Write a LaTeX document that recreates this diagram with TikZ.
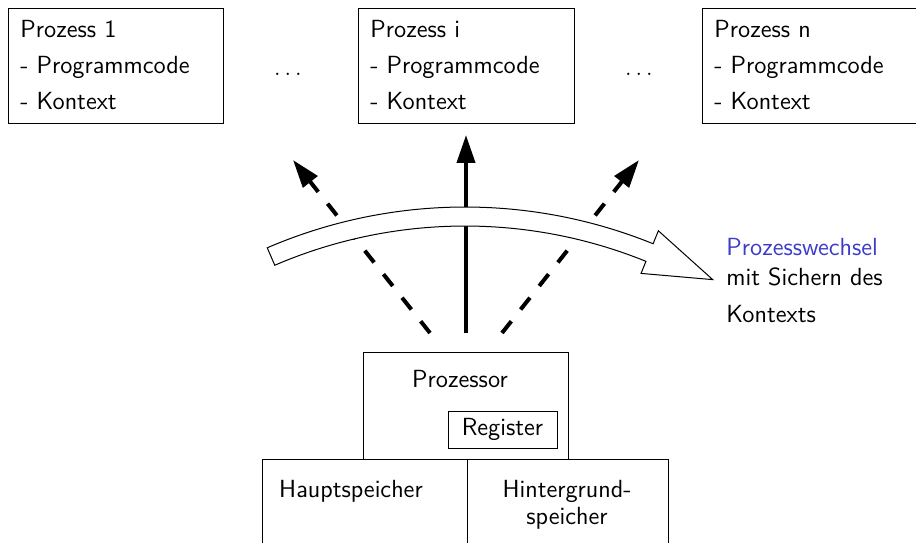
\documentclass[tikz,border=0pt]{standalone}
\usepackage{fontspec}
\usetikzlibrary{arrows.meta}
\definecolor{pblue}{RGB}{60,60,200}
\begin{document}
\begin{tikzpicture}[x=0.5pt,y=0.5pt,
  every node/.style={font=\fontsize{12.4}{15}\selectfont\sffamily, inner sep=0pt},
  box/.style={draw, line width=0.6pt, anchor=north west},
  txt/.style={anchor=base west},
  ctxt/.style={anchor=base},
  dotsnode/.style={anchor=base},
  switcharrow/.style={line width=2pt, -{Triangle[length=14pt,width=9pt]}},
  dasharrow/.style={switcharrow, dash pattern=on 7.5pt off 7.5pt},
  hollow/.style={draw, fill=white, line width=0.5pt, line join=miter}]
\useasboundingbox (0,0) rectangle (916,542);

% process boxes
\node[box, minimum width=107.5pt, minimum height=57.5pt] (p1) at (8,534) {};
\node[box, minimum width=108pt, minimum height=57.5pt] (pi) at (358,534) {};
\node[box, minimum width=120pt, minimum height=57.5pt] (pn) at (702,534) {};

\node[txt] (p1a) at (20,504) {Prozess 1};
\node[txt] (p1b) at (20,468) {- Programmcode};
\node[txt] (p1c) at (20,432) {- Kontext};
\node[txt] (pia) at (370,504) {Prozess i};
\node[txt] (pib) at (370,468) {- Programmcode};
\node[txt] (pic) at (370,432) {- Kontext};
\node[txt] (pna) at (714,504) {Prozess n};
\node[txt] (pnb) at (714,468) {- Programmcode};
\node[txt] (pnc) at (714,432) {- Kontext};

\node[dotsnode] (d1) at (288,466) {$\ldots$};
\node[dotsnode] (d2) at (639,466) {$\ldots$};

% processor
\node[box, minimum width=102.5pt, minimum height=53.5pt] (cpu) at (363,190) {};
\node[ctxt] (cpul) at (460,155) {Prozessor};
\node[draw, line width=0.4pt, minimum width=54.5pt, minimum height=18.5pt, anchor=north west] (reg) at (448,131) {};
\node[ctxt] (regl) at (502.5,107) {Register};

% memories
\node[box, minimum width=102.5pt, minimum height=60pt] (mem) at (262,83) {};
\node[box, minimum width=100.5pt, minimum height=60pt] (disk) at (467,83) {};
\node[ctxt] (meml) at (351,45) {Hauptspeicher};
\node[ctxt] (diskl1) at (567,45) {Hintergrund-};
\node[ctxt] (diskl2) at (567,18) {speicher};

% arrows
\coordinate (sL) at (430,209);
\coordinate (sM) at (466,209);
\coordinate (sR) at (502,209);
\coordinate (tL) at (293,382);
\coordinate (tM) at (466,407);
\coordinate (tR) at (639,382);
\draw[dasharrow] (sL) -- (tL);
\draw[switcharrow] (sM) -- (tM);
\draw[dasharrow] (sR) -- (tR);

% hollow curved arrow
\coordinate (c) at (465,-165);
\path[hollow] ([shift={(113.3:250pt)}]c)
  arc[start angle=113.3, end angle=67.9, radius=250pt]
  -- ([shift={(67.9:257pt)}]c)
  -- ([shift={(59.9:247pt)}]c)
  -- ([shift={(67.9:234pt)}]c)
  -- ([shift={(67.9:240.5pt)}]c)
  arc[start angle=67.9, end angle=113.3, radius=240.5pt]
  -- cycle;

\node[txt, text=pblue] (sw1) at (726,287) {Prozesswechsel};
\node[txt] (sw2) at (726,257) {mit Sichern des};
\node[txt] (sw3) at (726,220) {Kontexts};
\end{tikzpicture}
\end{document}
